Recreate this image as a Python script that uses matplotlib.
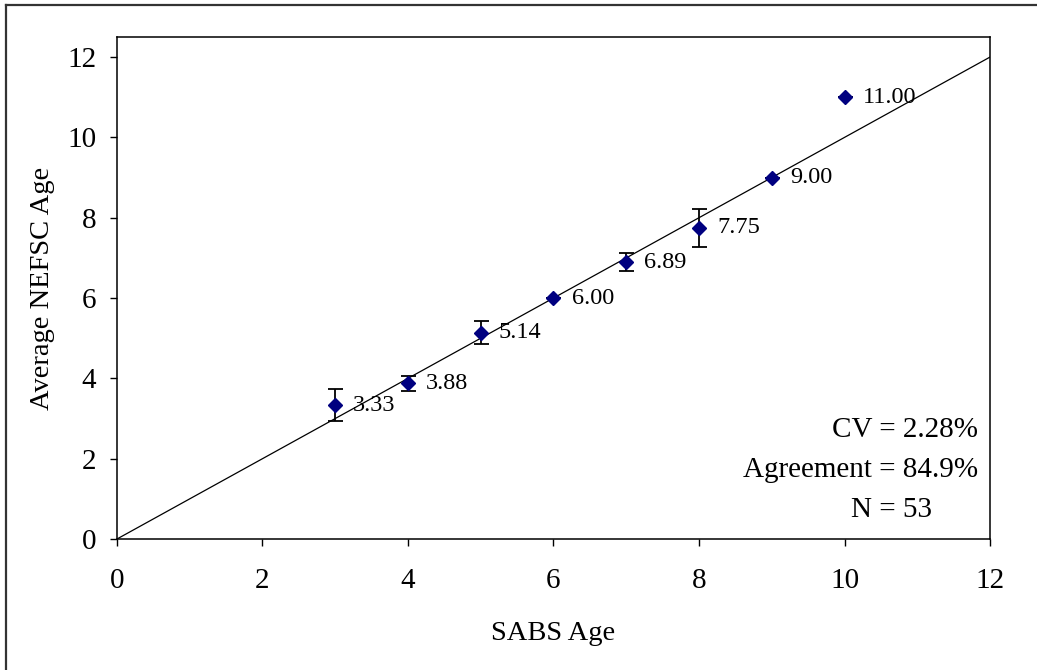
import numpy as np
import matplotlib
matplotlib.use("Agg")
import matplotlib.pyplot as plt
from matplotlib.lines import Line2D

# SABS age vs average NEFSC age
sabs_age = [3, 4, 5, 6, 7, 8, 9, 10]
nefsc_avg = [3.33, 3.88, 5.14, 6.00, 6.89, 7.75, 9.00, 11.00]
err = [0.40, 0.19, 0.28, 0.0, 0.22, 0.47, 0.0, 0.0]
labels = ["3.33", "3.88", "5.14", "6.00", "6.89", "7.75", "9.00", "11.00"]
stats_txt = ["CV = 2.28%", "Agreement = 84.9%", "N = 53"]

plt.rcParams['font.family'] = ['Liberation Serif', 'DejaVu Serif']

fig = plt.figure(figsize=(10.37, 6.70), dpi=100)
ax = fig.add_axes([0.1128, 0.1955, 0.8419, 0.7493])

# 1:1 line
ax.plot([0, 12], [0, 12], color='black', lw=0.9, zorder=1)

ax.errorbar(sabs_age, nefsc_avg, yerr=err, fmt='none', ecolor='black',
            elinewidth=1.3, capsize=5.4, capthick=1.3, zorder=2)
ax.plot(sabs_age, nefsc_avg, linestyle='none', marker='D', ms=7.4,
        color='#000080', zorder=3)

for x, y, s in zip(sabs_age, nefsc_avg, labels):
    ax.annotate(s, (x, y), xytext=(13, 0), textcoords='offset points',
                ha='left', va='center', fontsize=17.5)

ax.set_xlim(0, 12)
ax.set_ylim(0, 12.5)
ax.set_xticks(range(0, 13, 2))
ax.set_yticks(range(0, 13, 2))
ax.tick_params(direction='out', length=5, width=1, labelsize=21)
ax.tick_params(axis='x', pad=16)
ax.tick_params(axis='y', pad=10)
for sp in ax.spines.values():
    sp.set_linewidth(1.1)

ax.set_xlabel("SABS Age", fontsize=20.5, labelpad=19)
ax.set_ylabel("Average NEFSC Age", fontsize=20.5, labelpad=9)

ax.text(0.986, 0.217, stats_txt[0], transform=ax.transAxes, ha='right', va='center', fontsize=21)
ax.text(0.986, 0.137, stats_txt[1], transform=ax.transAxes, ha='right', va='center', fontsize=21)
ax.text(0.934, 0.058, stats_txt[2], transform=ax.transAxes, ha='right', va='center', fontsize=21)

# outer chart frame (left and top edges visible)
fig.add_artist(Line2D([6/1037, 6/1037], [0, 1 - 5/670], transform=fig.transFigure,
                      color='#333333', lw=1.6))
fig.add_artist(Line2D([6/1037, 1], [1 - 5/670, 1 - 5/670], transform=fig.transFigure,
                      color='#333333', lw=1.6))

fig.savefig("out.png", dpi=100)
